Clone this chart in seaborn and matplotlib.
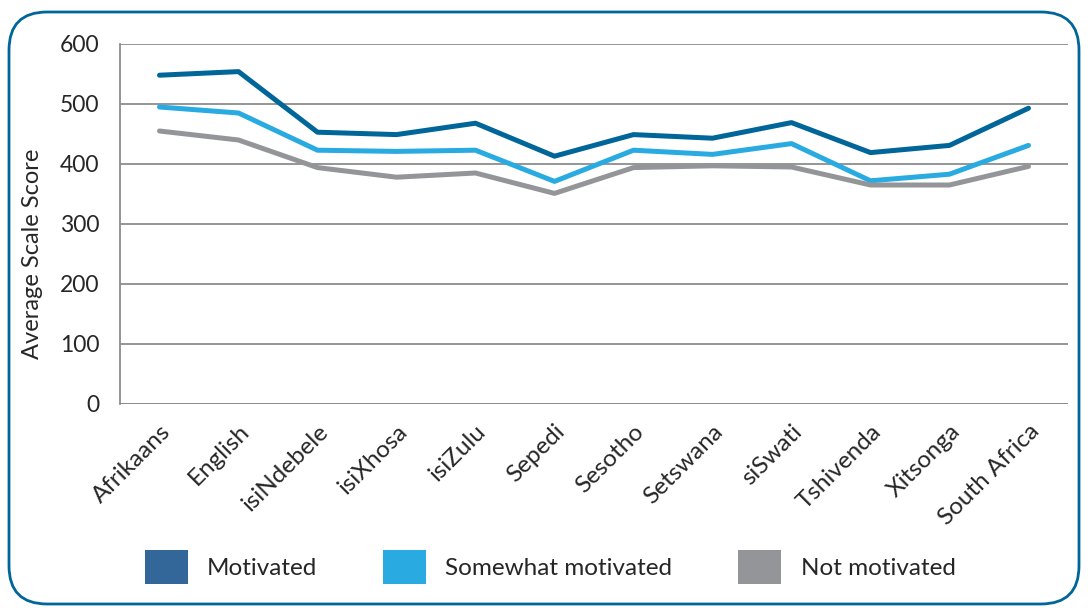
import matplotlib
matplotlib.use("Agg")
import matplotlib.pyplot as plt
import seaborn as sns
import pandas as pd
from matplotlib.patches import Patch, FancyBboxPatch
from matplotlib.ticker import FixedLocator

# Average scale score by language and motivation level
languages = ["Afrikaans", "English", "isiNdebele", "isiXhosa", "isiZulu", "Sepedi",
             "Sesotho", "Setswana", "siSwati", "Tshivenda", "Xitsonga", "South Africa"]
motivated = [548, 554, 453, 449, 468, 413, 449, 443, 469, 419, 431, 493]
somewhat = [495, 485, 423, 421, 423, 371, 423, 416, 434, 372, 383, 431]
not_motivated = [455, 440, 394, 378, 385, 351, 394, 397, 395, 365, 365, 396]

groups = ["Motivated", "Somewhat motivated", "Not motivated"]
line_colors = ["#006699", "#29abe2", "#939598"]
patch_colors = ["#336699", "#29abe2", "#939598"]

df = pd.DataFrame({
    "Language": languages * 3,
    "Score": motivated + somewhat + not_motivated,
    "Group": [g for g in groups for _ in languages],
})

sns.set_style("white")
plt.rcParams["font.family"] = ["Lato", "DejaVu Sans"]

fig = plt.figure(figsize=(10.88, 6.08), dpi=100)
ax = fig.add_axes([120 / 1088, 1 - 404 / 608, 948 / 1088, 360 / 608])

sns.lineplot(data=df, x="Language", y="Score", hue="Group", palette=line_colors,
             linewidth=3.6, ax=ax, legend=False, sort=False)

grey = "#8c8c8c"
ax.set_xlim(-0.5, len(languages) - 0.5)
ax.set_ylim(0, 600)
ax.set_yticks(range(0, 601, 100))
ax.yaxis.grid(True, color=grey, linewidth=1.3)
ax.set_axisbelow(True)
for s in ["top", "right", "bottom"]:
    ax.spines[s].set_visible(False)
ax.spines["left"].set_color(grey)
ax.spines["left"].set_linewidth(1.3)

ax.set_xticks(range(len(languages)))
ax.set_xticklabels(languages, rotation=45, ha="right", rotation_mode="anchor", fontsize=17.5)
ax.tick_params(axis="x", which="major", length=0, pad=12)
ax.xaxis.set_minor_locator(FixedLocator([i - 0.5 for i in range(len(languages) + 1)]))
ax.tick_params(axis="x", which="minor", length=7, color=grey, width=1.3)
ax.tick_params(axis="y", length=8, color=grey, width=1.3, labelsize=16.5, pad=7)
ax.axhline(0, color=grey, linewidth=1.3)

ax.set_xlabel("")
ax.set_ylabel("Average Scale Score", fontsize=17)
ax.yaxis.set_label_coords(-0.081, 0.417)

handles = [Patch(facecolor=c, edgecolor="none") for c in patch_colors]
fig.legend(handles, groups, loc="center", bbox_to_anchor=(550 / 1088, 1 - 567 / 608),
           ncol=3, frameon=False, fontsize=17.5, handlelength=1.77, handleheight=1.73,
           handletextpad=0.8, columnspacing=2.7)

border = FancyBboxPatch((9 / 1088, 4 / 608), 1070 / 1088, 592 / 608,
                        boxstyle="round,pad=0,rounding_size=0.035",
                        transform=fig.transFigure, facecolor="none",
                        edgecolor="#006699", linewidth=2, mutation_aspect=1088 / 608)
fig.patches.append(border)

fig.savefig("out.png", dpi=100)
